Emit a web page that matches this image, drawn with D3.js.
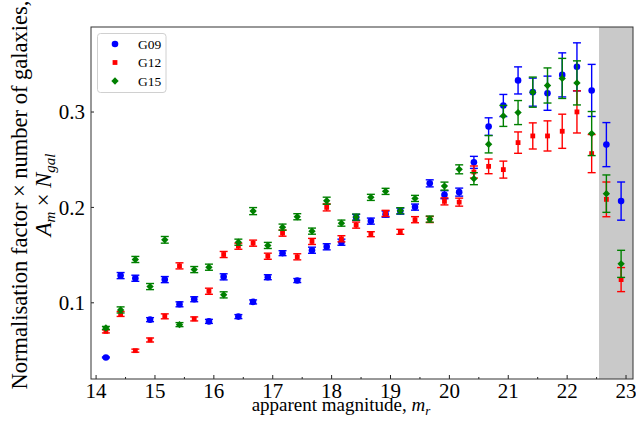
<!DOCTYPE html>
<html lang="en">
<head>
	<meta charset="utf-8">
	<script src="https://d3js.org/d3.v7.min.js"></script>
	<style type="text/css">
		body {
			margin: 0;
			background: #fff;
		}
		text {
			font-family: "Liberation Serif", "DejaVu Serif", serif;
			fill: #000;
		}
	</style>
</head>
<body>
	<script type="text/javascript">

	// bin centres (apparent magnitude)
	var mags = [14.175, 14.425, 14.675, 14.925, 15.175, 15.425, 15.675, 15.925, 16.175, 16.425,
	            16.675, 16.925, 17.175, 17.425, 17.675, 17.925, 18.175, 18.425, 18.675, 18.925,
	            19.175, 19.425, 19.675, 19.925, 20.175, 20.425, 20.675, 20.925, 21.175, 21.425,
	            21.675, 21.925, 22.175, 22.425, 22.675, 22.925];

	var g09 = [0.0422, 0.1280, 0.1252, 0.0818, 0.1238, 0.0979, 0.1032, 0.0800, 0.1267, 0.0850,
	           0.1004, 0.1263, 0.1515, 0.1228, 0.1546, 0.1582, 0.1630, 0.1890, 0.1851, 0.1924,
	           0.1956, 0.1998, 0.2247, 0.2128, 0.2155, 0.2467, 0.2842, 0.3063, 0.3326, 0.3203,
	           0.3192, 0.3384, 0.3468, 0.3221, 0.2653, 0.2061];
	var g09Err = [0.0005, 0.0032, 0.0032, 0.0021, 0.0032, 0.0026, 0.0026, 0.0021, 0.0032, 0.0021,
	              0.0021, 0.0026, 0.0026, 0.0021, 0.0032, 0.0032, 0.0032, 0.0032, 0.0032, 0.0032,
	              0.0032, 0.0032, 0.0037, 0.0042, 0.0042, 0.0063, 0.0092, 0.0116, 0.0142, 0.0147,
	              0.0179, 0.0231, 0.0252, 0.0273, 0.0231, 0.0200];

	var g12 = [0.0695, 0.0878, 0.0493, 0.0605, 0.0853, 0.1382, 0.0826, 0.1116, 0.1501, 0.1588,
	           0.1620, 0.1483, 0.1725, 0.1477, 0.1638, 0.1995, 0.1666, 0.1809, 0.1714, 0.1932,
	           0.1739, 0.1866, 0.1868, 0.2058, 0.2050, 0.2366, 0.2425, 0.2391, 0.2674, 0.2744,
	           0.2744, 0.2793, 0.2996, 0.2559, 0.2079, 0.1238];
	var g12Err = [0.0016, 0.0026, 0.0016, 0.0021, 0.0026, 0.0032, 0.0021, 0.0032, 0.0032, 0.0032,
	              0.0032, 0.0032, 0.0032, 0.0032, 0.0032, 0.0037, 0.0032, 0.0032, 0.0026, 0.0032,
	              0.0026, 0.0032, 0.0032, 0.0037, 0.0042, 0.0063, 0.0077, 0.0089, 0.0112, 0.0137,
	              0.0158, 0.0179, 0.0221, 0.0200, 0.0182, 0.0126];

	var g15 = [0.0731, 0.0920, 0.1449, 0.1165, 0.1655, 0.0766, 0.1343, 0.1368, 0.1078, 0.1630,
	           0.1956, 0.1596, 0.1788, 0.1897, 0.1746, 0.2065, 0.1830, 0.1893, 0.2100, 0.2163,
	           0.1960, 0.2089, 0.1872, 0.2218, 0.2394, 0.2296, 0.2657, 0.2954, 0.2989, 0.3203,
	           0.3273, 0.3347, 0.3300, 0.2769, 0.2139, 0.1403];
	var g15Err = [0.0016, 0.0032, 0.0032, 0.0032, 0.0035, 0.0021, 0.0032, 0.0032, 0.0032, 0.0032,
	              0.0037, 0.0032, 0.0032, 0.0032, 0.0032, 0.0037, 0.0032, 0.0032, 0.0032, 0.0032,
	              0.0032, 0.0032, 0.0032, 0.0042, 0.0047, 0.0063, 0.0091, 0.0110, 0.0126, 0.0158,
	              0.0184, 0.0210, 0.0231, 0.0231, 0.0196, 0.0142];

	var xTicks = [14, 15, 16, 17, 18, 19, 20, 21, 22, 23];
	var xMinor = [14.5, 15.5, 16.5, 17.5, 18.5, 19.5, 20.5, 21.5, 22.5];
	var yTicks = [0.1, 0.2, 0.3];
	var shadeFrom = 22.55;

	var width = 636;
	var height = 421;
	var margin = {left: 91, right: 3, top: 27, bottom: 42};

	var x = d3.scaleLinear()
	          .domain([13.922, 23.127])
	          .range([margin.left, width - margin.right]);
	var y = d3.scaleLinear()
	          .domain([0.0196, 0.3886])
	          .range([height - margin.bottom, margin.top]);

	var svg = d3.select("body")
	            .append("svg")
	            .attr("width", width)
	            .attr("height", height);

	// shaded faint end
	svg.append("rect")
	   .attr("x", x(shadeFrom))
	   .attr("y", margin.top)
	   .attr("width", x.range()[1] - x(shadeFrom))
	   .attr("height", y.range()[0] - margin.top)
	   .style("fill", "#c9c9c9");

	// axes, ticks pointing inwards
	svg.append("g")
	   .attr("transform", "translate(0," + y.range()[0] + ")")
	   .call(d3.axisBottom(x).tickValues(xTicks).tickSizeInner(-4).tickSizeOuter(0)
	           .tickPadding(4).tickFormat(d3.format("d")));
	svg.append("g")
	   .attr("transform", "translate(0," + y.range()[0] + ")")
	   .call(d3.axisBottom(x).tickValues(xMinor).tickSizeInner(-2).tickSizeOuter(0).tickFormat(""));

	var yAxis = svg.append("g")
	   .attr("transform", "translate(" + margin.left + ",0)")
	   .call(d3.axisLeft(y).tickValues(yTicks).tickSizeInner(-3).tickSizeOuter(0)
	           .tickPadding(6).tickFormat(d3.format(".1f")));

	svg.selectAll(".tick text")
	   .style("font-family", "'Liberation Serif', serif")
	   .style("font-size", "21px");
	yAxis.selectAll(".tick text").attr("dy", "0.34em");
	svg.selectAll(".tick line").style("stroke", "#222");
	svg.selectAll(".domain").remove();

	// frame
	svg.append("rect")
	   .attr("x", margin.left)
	   .attr("y", margin.top)
	   .attr("width", x.range()[1] - margin.left)
	   .attr("height", y.range()[0] - margin.top)
	   .style("fill", "none")
	   .style("stroke", "#333")
	   .style("stroke-width", 1);

	var series = [
		{name: "G09", vals: g09, errs: g09Err, color: "#0000ff", shape: "circle"},
		{name: "G12", vals: g12, errs: g12Err, color: "#ff0000", shape: "square"},
		{name: "G15", vals: g15, errs: g15Err, color: "#008000", shape: "diamond"}
	];

	function marker(sel, shape, color) {
		if (shape == "circle") {
			sel.append("circle").attr("r", 3.3).style("fill", color);
		} else if (shape == "square") {
			sel.append("rect").attr("x", -2.4).attr("y", -2.4)
			   .attr("width", 4.8).attr("height", 4.8).style("fill", color);
		} else {
			sel.append("rect").attr("x", -2.6).attr("y", -2.6)
			   .attr("width", 5.2).attr("height", 5.2)
			   .attr("transform", "rotate(45)").style("fill", color);
		}
	}

	var cap = 4;
	series.forEach(function(s) {
		var g = svg.append("g").attr("class", "series-" + s.name);
		var pts = g.selectAll("g")
		           .data(mags)
		           .enter()
		           .append("g");
		pts.each(function(m, i) {
			var p = d3.select(this);
			var xx = x(m), lo = y(s.vals[i] - s.errs[i]), hi = y(s.vals[i] + s.errs[i]);
			p.append("line").attr("x1", xx).attr("x2", xx).attr("y1", lo).attr("y2", hi);
			p.append("line").attr("x1", xx - cap).attr("x2", xx + cap).attr("y1", lo).attr("y2", lo);
			p.append("line").attr("x1", xx - cap).attr("x2", xx + cap).attr("y1", hi).attr("y2", hi);
			p.selectAll("line").style("stroke", s.color).style("stroke-width", 1.4);
			var mk = p.append("g").attr("transform", "translate(" + xx + "," + y(s.vals[i]) + ")");
			marker(mk, s.shape, s.color);
		});
	});

	// legend
	var legend = svg.append("g").attr("transform", "translate(97.5,33.5)");
	legend.append("rect")
	      .attr("width", 68.5)
	      .attr("height", 59)
	      .attr("rx", 3)
	      .style("fill", "#fff")
	      .style("fill-opacity", 0.8)
	      .style("stroke", "#d0d0d0")
	      .style("stroke-width", 1);
	var rows = legend.selectAll("g.row")
	      .data(series)
	      .enter()
	      .append("g")
	      .attr("class", "row")
	      .attr("transform", function(d, i) { return "translate(17.5," + (10.5 + i * 18.5) + ")"; });
	rows.each(function(d) { marker(d3.select(this), d.shape, d.color); });
	rows.append("text")
	    .attr("x", 23)
	    .attr("y", 0)
	    .attr("dy", "0.35em")
	    .style("font-size", "13.5px")
	    .text(function(d) { return d.name; });

	// axis labels
	var xl = svg.append("text")
	   .attr("x", 341)
	   .attr("y", 411)
	   .attr("text-anchor", "middle")
	   .style("font-size", "19px");
	xl.append("tspan").text("apparent magnitude, ");
	xl.append("tspan").style("font-style", "italic").text("m");
	xl.append("tspan").style("font-style", "italic").style("font-size", "13px")
	  .attr("dy", 4).text("r");

	var yl = svg.append("g").attr("transform", "translate(0,195) rotate(-90)");
	yl.append("text")
	  .attr("x", 0)
	  .attr("y", 27)
	  .attr("text-anchor", "middle")
	  .style("font-size", "22.5px")
	  .text("Normalisation factor \u00d7 number of galaxies,");
	var l2 = yl.append("text")
	  .attr("x", 0)
	  .attr("y", 51)
	  .attr("text-anchor", "middle")
	  .style("font-size", "22.5px");
	l2.append("tspan").style("font-style", "italic").text("A");
	l2.append("tspan").style("font-style", "italic").style("font-size", "15px").attr("dy", 4).text("m");
	l2.append("tspan").attr("dy", -4).text(" \u00d7 ");
	l2.append("tspan").style("font-style", "italic").text("N");
	l2.append("tspan").style("font-style", "italic").style("font-size", "15px").attr("dy", 4).text("gal");
	</script>
</body>
</html>
